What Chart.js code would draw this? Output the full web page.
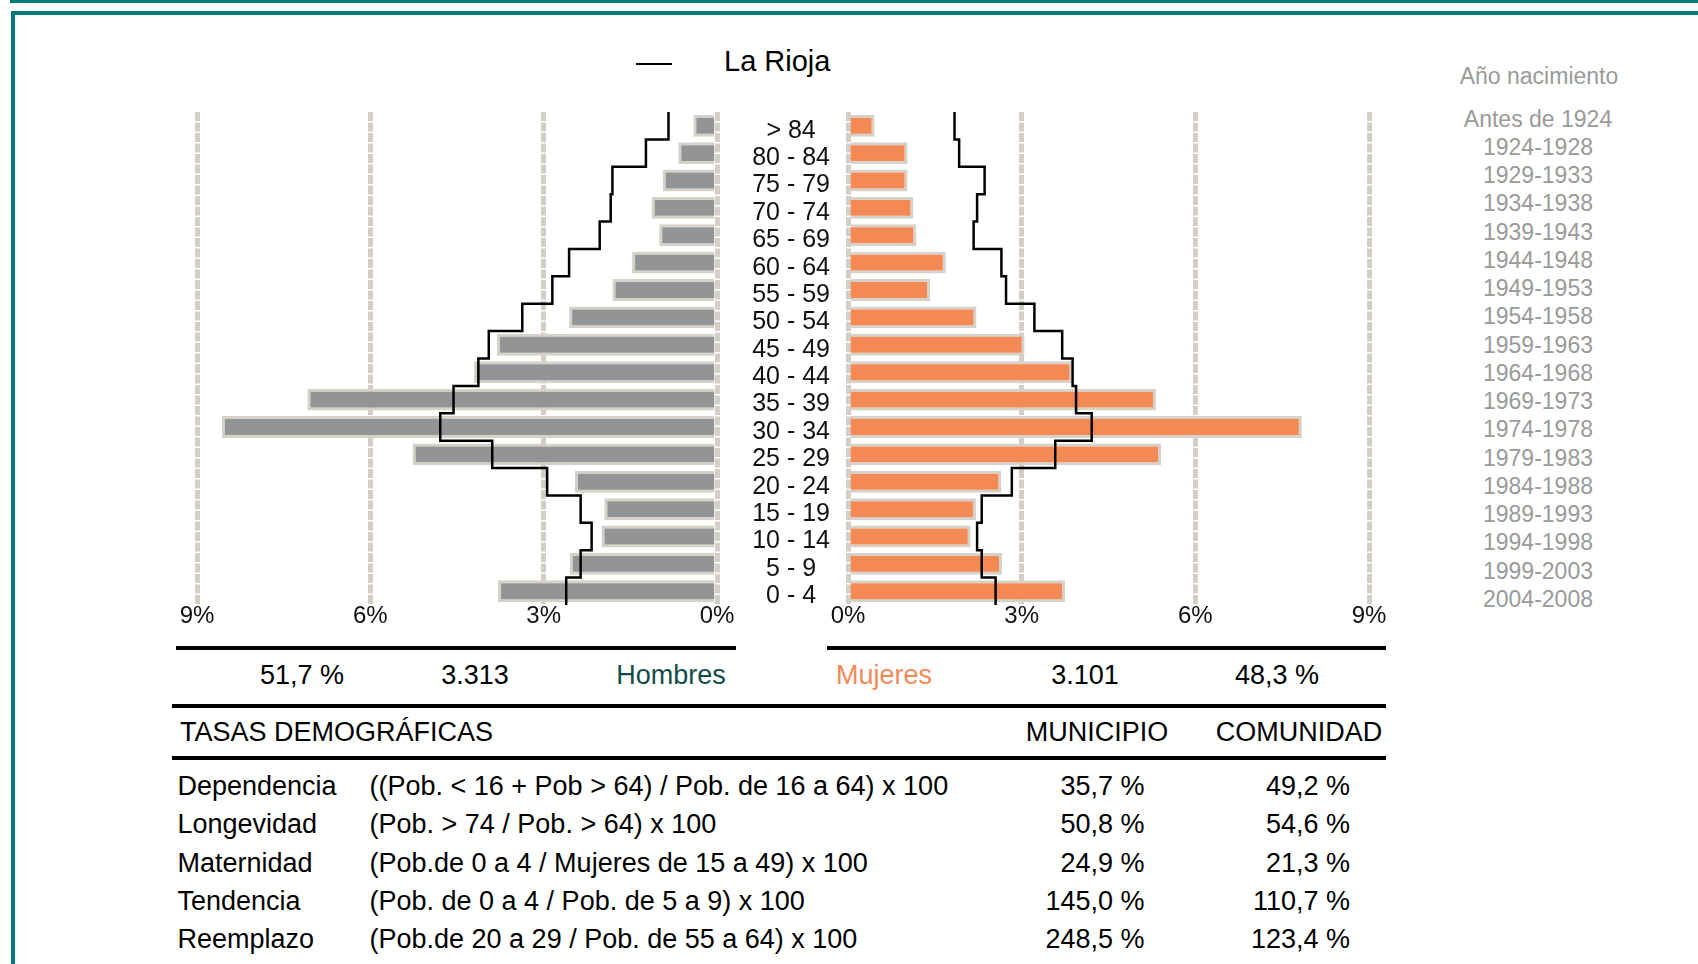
<!DOCTYPE html>
<html><head><meta charset="utf-8">
<script src="https://cdn.jsdelivr.net/npm/chart.js@4.4.1/dist/chart.umd.min.js"></script>
<style>
html,body{margin:0;padding:0;background:#fff;}
body{width:1698px;height:964px;position:relative;overflow:hidden;font-family:"Liberation Sans",Arial,sans-serif;color:#000;}
.abs{position:absolute;white-space:nowrap;}
.c{transform:translateX(-50%);}
.r{transform:translateX(-100%);}
.t27{font-size:27px;line-height:34px;height:34px;}
.rule{position:absolute;background:#000;}
</style></head><body>
<div class="abs" style="left:10px;top:0;width:1688px;height:3px;background:#007a74"></div>
<div class="abs" style="left:11px;top:11px;width:1700px;height:1000px;border-top:4px solid #007a74;border-left:4px solid #007a74;"></div>

<div class="abs" style="left:636px;top:62.5px;width:36px;height:2.5px;background:#000"></div>
<div id="legendText" class="abs" style="left:724px;top:44px;font-size:29px;line-height:34px;"></div>

<canvas id="men" width="600" height="540" class="abs" style="left:150px;top:100px"></canvas>
<canvas id="women" width="680" height="540" class="abs" style="left:730px;top:100px"></canvas>

<div id="years"></div>
<div id="summary"></div>
<div class="rule" style="left:176px;top:646px;width:560px;height:4px"></div>
<div class="rule" style="left:827px;top:646px;width:559px;height:4px"></div>
<div class="rule" style="left:172px;top:704px;width:1214px;height:4px"></div>
<div class="rule" style="left:172px;top:756px;width:1214px;height:4px"></div>
<div id="table"></div>

<script>
// ---- data ----
const ageGroups = ['> 84','80 - 84','75 - 79','70 - 74','65 - 69','60 - 64','55 - 59','50 - 54','45 - 49','40 - 44','35 - 39','30 - 34','25 - 29','20 - 24','15 - 19','10 - 14','5 - 9','0 - 4'];
const birthYears = ['Antes de 1924','1924-1928','1929-1933','1934-1938','1939-1943','1944-1948','1949-1953','1954-1958','1959-1963','1964-1968','1969-1973','1974-1978','1979-1983','1984-1988','1989-1993','1994-1998','1999-2003','2004-2008'];
const menPct   = [0.41,0.67,0.94,1.13,1.00,1.47,1.81,2.56,3.81,4.21,7.09,8.57,5.27,2.46,1.95,2.00,2.55,3.79];
const womenPct = [0.46,1.03,1.03,1.13,1.18,1.69,1.42,2.22,3.05,3.88,5.32,7.84,5.41,2.65,2.21,2.12,2.66,3.75];
const menRegion   = [0.84,1.23,1.81,1.84,2.03,2.56,2.85,3.37,3.95,4.13,4.56,4.79,3.89,2.94,2.36,2.17,2.36,2.61];
const womenRegion = [1.84,1.92,2.36,2.23,2.17,2.65,2.73,3.22,3.70,3.88,3.94,4.21,3.58,2.83,2.31,2.23,2.31,2.55];
const pctTicks = [0,3,6,9];
const regionName = 'La Rioja';
const yearsTitle = 'Año nacimiento';
const menSummary = ['51,7 %','3.313','Hombres'];
const womenSummary = ['Mujeres','3.101','48,3 %'];
const ratesTitle = ['TASAS DEMOGRÁFICAS','MUNICIPIO','COMUNIDAD'];
const rateNames = ['Dependencia','Longevidad','Maternidad','Tendencia','Reemplazo'];
const rateFormulas = ['((Pob. < 16 + Pob > 64) / Pob. de 16 a 64) x 100','(Pob. > 74 / Pob. > 64) x 100','(Pob.de 0 a 4 / Mujeres de 15 a 49) x 100','(Pob. de 0 a 4 / Pob. de 5 a 9) x 100','(Pob.de 20 a 29 / Pob. de 55 a 64) x 100'];
const rateMunicipio = ['35,7 %','50,8 %','24,9 %','145,0 %','248,5 %'];
const rateComunidad = ['49,2 %','54,6 %','21,3 %','110,7 %','123,4 %'];

// ---- helpers ----
const FONT = '"Liberation Sans", Arial, sans-serif';
function stepPoints(vals){
  const pts=[];
  vals.forEach((v,i)=>{pts.push({x:v,y:i-0.5});pts.push({x:v,y:i+0.5});});
  return pts;
}
function el(parent, cls, style, text){
  const d=document.createElement('div'); d.className=cls; d.setAttribute('style',style); d.textContent=text; parent.appendChild(d); return d;
}
const GRID = {color:'#d3cfc7', lineWidth:5, drawTicks:false};
const BORDER = {display:false, dash:[9,1.5]};

function makeChart(id, values, region, color, reverse, showLabels, pad){
  const scales = {
    x:{type:'linear', position:'bottom', reverse:reverse, min:0, max:9,
       afterBuildTicks:s=>{s.ticks=pctTicks.map(v=>({value:v}));},
       ticks:{callback:v=>v+'%', color:'#111', padding:-1, font:{family:FONT,size:24,lineHeight:1}},
       grid:GRID, border:BORDER, afterFit:s=>{s.height=35;}},
    y:{type:'category', position:'left', offset:true, display:showLabels,
       grid:{display:false, drawTicks:false}, border:{display:false},
       ticks:{autoSkip:false, crossAlign:'center', padding:18, labelOffset:5, color:'#111', font:{family:FONT,size:25}},
       afterFit:s=>{ if(showLabels){ s.width=118; } s.paddingTop=0; s.paddingBottom=0; }},
    yStep:{type:'linear', display:false, offset:false, min:-0.5, max:17.5, reverse:true, grid:{offset:false}}
  };
  return new Chart(document.getElementById(id), {
    type:'bar',
    data:{labels:ageGroups, datasets:[
      {label:id, data:values, xAxisID:'x', yAxisID:'y', backgroundColor:color, borderColor:'#d6d2ca',
       borderWidth:3, borderSkipped:'start', grouped:false, barPercentage:0.8, categoryPercentage:1, order:1},
      {type:'line', label:regionName, data:stepPoints(region), xAxisID:'x', yAxisID:'yStep',
       borderColor:'#000', borderWidth:2.5, pointRadius:0, fill:false, tension:0, order:0}
    ]},
    options:{indexAxis:'y', responsive:false, animation:false, devicePixelRatio:1,
      layout:{padding:pad},
      plugins:{legend:{display:false}, tooltip:{enabled:false}},
      scales:scales}
  });
}
makeChart('men', menPct, menRegion, '#939496', true, false, {left:47,right:33,top:12,bottom:0});
makeChart('women', womenPct, womenRegion, '#f38a56', false, true, {left:0,right:41,top:12,bottom:0});

// legend
document.getElementById('legendText').textContent = regionName;

// birth years
const yb = document.getElementById('years');
el(yb,'abs c','left:1539px;top:59px;font-size:23px;line-height:34px;color:#9a9a9a;',yearsTitle);
birthYears.forEach((t,i)=>{
  el(yb,'abs c','left:1538px;top:'+(118.7+i*28.24-17)+'px;font-size:23px;line-height:34px;color:#9a9a9a;',t);
});

// summary
const sm = document.getElementById('summary');
const sy = 'top:658px;';
el(sm,'abs c t27','left:302px;'+sy,menSummary[0]);
el(sm,'abs c t27','left:475px;'+sy,menSummary[1]);
el(sm,'abs c t27','left:671px;color:#124d47;'+sy,menSummary[2]);
el(sm,'abs c t27','left:884px;color:#f38a56;'+sy,womenSummary[0]);
el(sm,'abs c t27','left:1085px;'+sy,womenSummary[1]);
el(sm,'abs c t27','left:1277px;'+sy,womenSummary[2]);

// table
const tb = document.getElementById('table');
el(tb,'abs t27','left:180px;top:715px;',ratesTitle[0]);
el(tb,'abs c t27','left:1097px;top:715px;',ratesTitle[1]);
el(tb,'abs c t27','left:1299px;top:715px;',ratesTitle[2]);
rateNames.forEach((n,i)=>{
  const top = 786 + i*38.25 - 17;
  el(tb,'abs t27','left:177.5px;top:'+top+'px;',n);
  el(tb,'abs t27','left:369.5px;top:'+top+'px;',rateFormulas[i]);
  el(tb,'abs r t27','left:1144.5px;top:'+top+'px;',rateMunicipio[i]);
  el(tb,'abs r t27','left:1350px;top:'+top+'px;',rateComunidad[i]);
});
</script>
</body></html>
